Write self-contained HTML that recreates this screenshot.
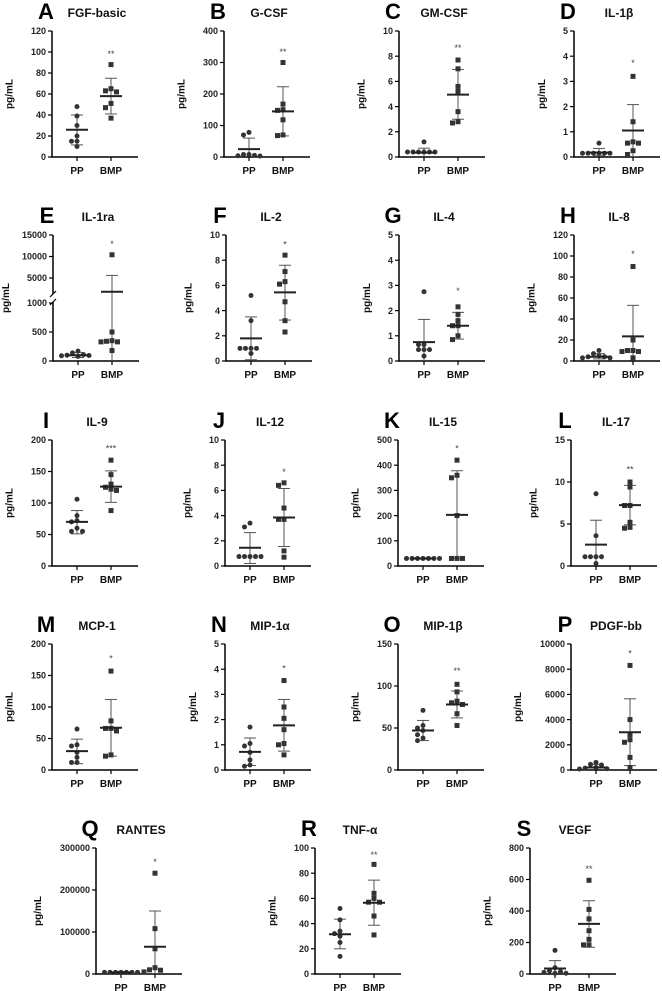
<!DOCTYPE html>
<html><head><meta charset="utf-8">
<style>
html,body{margin:0;padding:0;background:#fff;}
svg{display:block;font-family:"Liberation Sans",Arial,sans-serif;}
</style></head>
<body>
<svg id="fig" width="662" height="991" viewBox="0 0 662 991" xmlns="http://www.w3.org/2000/svg"></svg>
<script>
// ---- data ----
const panelLetters = ["A","B","C","D","E","F","G","H","I","J","K","L","M","N","O","P","Q","R","S"];
const panelTitles = ["FGF-basic","G-CSF","GM-CSF","IL-1β","IL-1ra","IL-2","IL-4","IL-8","IL-9","IL-12","IL-15","IL-17","MCP-1","MIP-1α","MIP-1β","PDGF-bb","RANTES","TNF-α","VEGF"];
const categories = ["PP","BMP"];
const yMaxes = [120,400,10,5,15000,10,5,120,200,10,500,15,200,5,150,10000,300000,100,800];
const yTickSteps = [20,100,2,1,5000,2,1,20,50,2,100,5,50,1,50,2000,100000,20,200];
const ppValues = [
 [48,39,30,20,15,15,10],[78,70,8,8,5,4,3],[1.2,0.4,0.4,0.4,0.4,0.4,0.4],[0.55,0.15,0.15,0.15,0.15,0.15,0.15],
 [170,140,110,100,95,90,80],[5.2,3.2,1.0,1.0,1.0,1.0,0.6],[2.75,0.65,0.65,0.45,0.45,0.45,0.2],[10,7,5,4,4,3,3],
 [106,80,72,70,60,55,55],[3.4,3.1,0.75,0.75,0.75,0.75,0.75],[30,30,30,30,30,30,30],[8.6,3.6,1.1,1.1,1.1,1.1,0.3],
 [65,40,38,28,20,12,12],[1.7,1.05,0.95,0.7,0.4,0.2,0.15],[71,53,50,47,42,38,35],[600,450,400,200,150,100,80],
 [4000,4000,4000,4000,4000,4000,4000],[52,43,34,32,30,25,14],[150,40,20,15,10,5,5]];
const ppMeans = [26,25,0.35,0.18,100,1.8,0.75,4,70,1.45,30,2.55,30,0.72,47,200,3500,31.5,35];
const ppLow =  [11.5,0,0,0.05,60,0.1,0,2,51,0.2,29,0,10,0.18,35,0,2000,20,0];
const ppHigh = [40,60,0.7,0.34,145,3.5,1.65,7,88,2.65,31,5.45,49,1.27,59,450,6000,43.5,85];
const bmpValues = [
 [88,65,63,62,51,47,37],[300,168,150,148,118,70,68],[7.7,7,5.6,5.2,3.6,2.8,2.7],[3.2,1.4,0.6,0.55,0.55,0.25,0.1],
 [10400,500,350,340,330,330,180],[8.4,7.1,6.3,6.1,4.7,3.2,2.3],[2.15,1.85,1.6,1.4,1.4,1.0,0.85],[90,20,10,10,9,9,3],
 [168,145,130,125,122,120,88],[6.6,6.4,4.6,3.7,3.7,1.2,0.7],[420,360,350,200,30,30,30],[10,9.4,7.2,7.2,5.2,4.6,4.5],
 [157,78,66,66,62,24,22],[3.55,2.5,2.05,1.6,1.05,1.0,0.6],[102,93,82,80,78,67,53],[8300,4000,2800,2400,2200,1000,200],
 [240000,108000,60000,15000,10000,9000,5000],[87,64,60,57,57,46,31],[595,410,350,275,220,185,185]];
const bmpMeans = [58,145,4.95,1.05,1800,5.45,1.4,23.5,126,3.85,203,7.25,67,1.77,78,3000,65000,56.5,318];
const bmpLow =  [41,67,3.0,0.02,0,3.25,0.87,0,101,1.55,30,4.9,22,0.75,62,350,0,38.7,170];
const bmpHigh = [75,223,6.95,2.08,5600,7.6,1.93,53,151,6.15,378,9.6,112,2.8,94,5650,150000,74.5,465];
const starLabels = ["**","**","**","*","*","*","*","*","***","*","*","**","*","*","**","*","*","**","**"];
const starValues = [100,340,8.8,3.8,13400,9.4,2.85,104,190,7.6,475,11.7,180,4.1,120,9400,272000,96,680];

// ---- layout (not data) ----
const rowTop = [31,235,440,644,848];
const colAxis = [[52,224,399,574],[53,226,399,574],[52,225,398,571],[52,225,398,571],[96,315,530]];
const PLOT_H = 126;

const svg = document.getElementById('fig');
const NS = 'http://www.w3.org/2000/svg';
function mk(tag, attrs, parent){
  const e = document.createElementNS(NS, tag);
  for (const k in attrs) e.setAttribute(k, attrs[k]);
  (parent||svg).appendChild(e);
  return e;
}
function fmt(v){ return String(v); }

let idx = 0;
for (let r = 0; r < 5; r++) {
  for (let c = 0; c < colAxis[r].length; c++) {
    const i = idx++;
    const ax = colAxis[r][c];
    const top = rowTop[r], zero = top + PLOT_H;
    const broken = (i === 4);
    const slug = panelTitles[i].toLowerCase().replace(/[^a-z0-9]+/g,'-');
    const g = mk('g', {});
    
    

    const y = broken
      ? (v => v <= 1000 ? zero - v * 0.058 : 278 - (v - 5000) / 5000 * 21.5)
      : (v => zero - v / yMaxes[i] * PLOT_H);

    const lt = mk('text', {x: ax - 6, y: top - 12, 'font-size': 22, 'font-weight': 'bold', 'text-anchor': 'middle', fill: '#000'}, g);
    lt.textContent = panelLetters[i];
    
    
    const tt = mk('text', {x: ax + 45, y: top - 14, 'font-size': 12, 'font-weight': 'bold', 'text-anchor': 'middle', fill: '#111'}, g);
    tt.textContent = panelTitles[i];
    
    

    const xEnd = ax + 86;
    if (broken) {
      const a1 = mk('line', {x1: ax, y1: top, x2: ax, y2: 294, stroke: '#000', 'stroke-width': 1.5}, g);
      
      
      const a2 = mk('line', {x1: ax, y1: 302, x2: ax, y2: zero, stroke: '#000', 'stroke-width': 1.5}, g);
      
      
      mk('line', {x1: ax - 3, y1: 297, x2: ax + 3, y2: 291, stroke: '#000', 'stroke-width': 1.2}, g);
      mk('line', {x1: ax - 3, y1: 305, x2: ax + 3, y2: 299, stroke: '#000', 'stroke-width': 1.2}, g);
    } else {
      const a = mk('line', {x1: ax, y1: top, x2: ax, y2: zero, stroke: '#000', 'stroke-width': 1.5}, g);
      
      
    }
    const xa = mk('line', {x1: ax - 1, y1: zero, x2: xEnd, y2: zero, stroke: '#000', 'stroke-width': 1.5}, g);
    
    

    const ticks = [];
    if (broken) { ticks.push(0, 500, 1000, 5000, 10000, 15000); }
    else { for (let v = 0; v <= yMaxes[i] + 1e-9; v += yTickSteps[i]) ticks.push(Math.round(v * 1000) / 1000); }
    ticks.forEach(v => {
      const ty = y(v);
      mk('line', {x1: ax - 4, y1: ty, x2: ax, y2: ty, stroke: '#000', 'stroke-width': 1.2}, g);
      const t = mk('text', {x: ax - 6, y: ty + 3.2, 'font-size': 9, 'font-weight': 'bold', 'text-anchor': 'end', fill: '#222'}, g);
      t.textContent = fmt(v);
      
      
    });

    const maxLabel = Math.max(...ticks.map(v => fmt(v).length));
    const labelOffset = Math.min(18 + maxLabel * 5.2 + 6, ax - 9);
    const yc = top + PLOT_H / 2;
    const yt = mk('text', {x: ax - labelOffset, y: yc, 'font-size': 10, 'font-weight': 'bold', 'text-anchor': 'middle', fill: '#111', transform: `rotate(-90 ${ax - labelOffset} ${yc})`}, g);
    yt.textContent = 'pg/mL';
    
    

    const gx = [ax + 25, ax + 59];
    const vals = [ppValues[i], bmpValues[i]];
    const means = [ppMeans[i], bmpMeans[i]];
    const lows = [ppLow[i], bmpLow[i]];
    const highs = [ppHigh[i], bmpHigh[i]];
    for (let k = 0; k < 2; k++) {
      const cx = gx[k];
      mk('line', {x1: cx, y1: zero, x2: cx, y2: zero + 4, stroke: '#000', 'stroke-width': 1.2}, g);
      const xl = mk('text', {x: cx, y: zero + 17, 'font-size': 10, 'font-weight': 'bold', 'text-anchor': 'middle', fill: '#111'}, g);
      xl.textContent = categories[k];
      
      

      const yh = y(highs[k]), yl = y(Math.max(0, lows[k]));
      const eb = mk('line', {x1: cx, y1: yh, x2: cx, y2: yl, stroke: '#555', 'stroke-width': 1}, g);
      
      
      mk('line', {x1: cx - 6, y1: yh, x2: cx + 6, y2: yh, stroke: '#555', 'stroke-width': 1}, g);
      if (lows[k] > 0) mk('line', {x1: cx - 6, y1: yl, x2: cx + 6, y2: yl, stroke: '#555', 'stroke-width': 1}, g);

      const placed = [];
      vals[k].forEach(v => {
        const py = y(v);
        const offs = [0, -5.5, 5.5, -11, 11, -16.5, 16.5, -22, 22];
        let px = cx;
        for (const o of offs) {
          const cand = cx + o;
          if (!placed.some(p => Math.abs(p[0] - cand) < 5 && Math.abs(p[1] - py) < 5)) { px = cand; break; }
        }
        placed.push([px, py]);
        let pt;
        if (k === 0) pt = mk('circle', {cx: px, cy: py, r: 2.5, fill: '#333'}, g);
        else pt = mk('rect', {x: px - 2.5, y: py - 2.5, width: 5, height: 5, fill: '#333'}, g);
        
        
      });

      const ym = y(means[k]);
      const ml = mk('line', {x1: cx - 11, y1: ym, x2: cx + 11, y2: ym, stroke: '#222', 'stroke-width': 2}, g);
      
      
    }
    const st = mk('text', {x: gx[1], y: y(starValues[i]) + 5, 'font-size': 9, 'text-anchor': 'middle', fill: '#444'}, g);
    st.textContent = starLabels[i];
    
    
  }
}
</script>
</body></html>
